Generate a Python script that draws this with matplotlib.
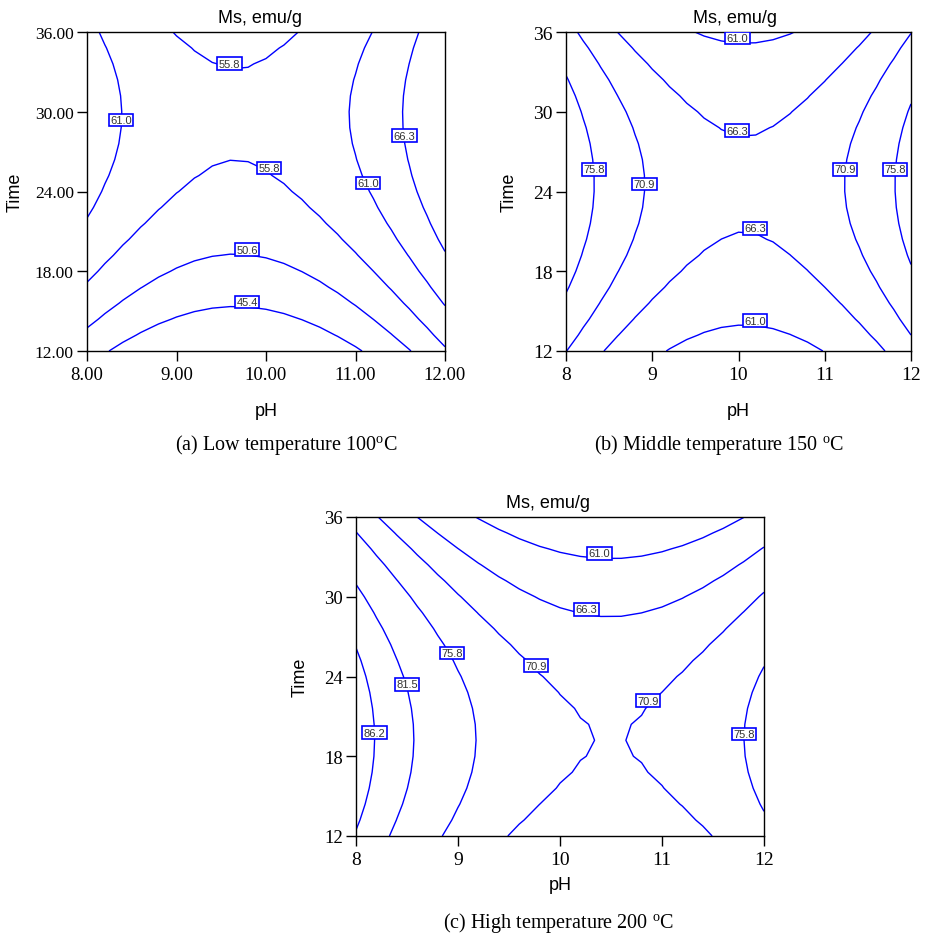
import numpy as np
import matplotlib
matplotlib.use("Agg")
import matplotlib.pyplot as plt

# ---------------- data ----------------
# Response surface for each reaction temperature: saddle-shaped quadratic
# Ms = centre_Ms + pH_curv*(pH - centre_pH)^2 - time_curv*(Time - centre_time)^2
temperature_C = [100, 150, 200]
centre_Ms = [56.42, 67.0, 70.81]
centre_pH = [9.66, 10.07, 10.49]
centre_time = [29.8, 24.55, 19.3]
pH_curv = [2.83, 2.89, 2.888]
time_curv = [0.0527, 0.0533, 0.0532]

# design grid used by the software (pH step 0.2, time step 1.2)
pH_grid = np.linspace(8, 12, 21)
time_grid = np.linspace(12, 36, 21)

levels_a = [45.4, 50.6, 55.8, 61.0, 66.3]
levels_b = [61.0, 66.3, 70.9, 75.8]
levels_c = [61.0, 66.3, 70.9, 75.8, 81.5, 86.2]

pH_ticks = [8, 9, 10, 11, 12]
time_ticks = [12, 18, 24, 30, 36]

captions = ["(a) Low temperature 100$^{\\mathrm{o}}$C",
            "(b) Middle temperature 150 $^{\\mathrm{o}}$C",
            "(c) High temperature 200 $^{\\mathrm{o}}$C"]
title = "Ms, emu/g"

# ---------------- style ----------------
plt.rcParams['font.family'] = ['Liberation Sans', 'DejaVu Sans']
plt.rcParams['mathtext.fontset'] = 'custom'
plt.rcParams['mathtext.rm'] = 'Liberation Serif'
plt.rcParams['mathtext.it'] = 'Liberation Serif:italic'
LINE = '#0000FF'
W, H = 925, 937

fig = plt.figure(figsize=(W / 100, H / 100), dpi=100)


def px_axes(l, t, r, b):
    return fig.add_axes([l / W, 1 - b / H, (r - l) / W, (b - t) / H])


def surface(i):
    P, T = np.meshgrid(pH_grid, time_grid)
    return P, T, (centre_Ms[i] + pH_curv[i] * (P - centre_pH[i]) ** 2
                  - time_curv[i] * (T - centre_time[i]) ** 2)


def panel(ax, i, levels, label_pos, fmt_ticks, xt_size, yt_size,
          ylabpad, xlabpad, title_x):
    P, T, Z = surface(i)
    cs = ax.contour(P, T, Z, levels=levels, colors=LINE, linewidths=1.0)
    texts = ax.clabel(cs, levels, inline=False, manual=label_pos,
                      fmt='%.1f', fontsize=8)
    for t in texts:
        t.set_rotation(0)
        t.set_va('bottom')
        t.set_color('#333333')
        t.set_bbox(dict(boxstyle='square,pad=0.12', fc='white',
                        ec=LINE, lw=1.2))
    ax.set_xlim(8, 12)
    ax.set_ylim(12, 36)
    ax.set_xticks(pH_ticks)
    ax.set_yticks(time_ticks)
    ax.set_xticklabels([fmt_ticks % v for v in pH_ticks])
    ax.set_yticklabels([fmt_ticks % v for v in time_ticks])
    ax.tick_params(direction='out', length=7.5, width=1.0,
                   labelfontfamily='Liberation Serif')
    ax.tick_params(axis='x', labelsize=xt_size, pad=3)
    ax.tick_params(axis='y', labelsize=yt_size, pad=2)
    for s in ax.spines.values():
        s.set_linewidth(1.0)
    ax.set_xlabel('pH', fontsize=13, labelpad=xlabpad)
    ax.set_ylabel('Time', fontsize=13, labelpad=ylabpad)
    ax.set_title(title, fontsize=13, pad=7, x=title_x)


# (a)
ax_a = px_axes(87, 33, 445, 352)
panel(ax_a, 0, levels_a,
      [(9.79, 15.2), (9.79, 19.2), (10.06, 25.6), (9.59, 33.2),
       (8.39, 29.0), (11.12, 24.2), (11.53, 27.8)],
      '%.2f', 13.5, 12.5, 8, 14, 0.483)

# (b)
ax_b = px_axes(566, 33, 911, 352)
panel(ax_b, 1, levels_b,
      [(9.99, 35.17), (9.99, 28.3), (10.19, 20.83), (10.19, 13.88),
       (8.32, 25.3), (8.90, 24.2), (11.23, 25.3), (11.80, 25.3)],
      '%d', 14, 14, 11, 14, 0.49)

# (c)
ax_c = px_axes(356, 518, 764, 837)
panel(ax_c, 2, levels_c,
      [(10.39, 33.0), (10.26, 28.6), (8.94, 25.4), (9.79, 24.6),
       (8.49, 23.0), (10.83, 22.1), (8.23, 19.4), (11.78, 19.3)],
      '%d', 14, 13.5, 11, 6, 0.47)

# captions
cap_pos = [(286, 450), (719, 450), (559, 928)]
for txt, (x, y) in zip(captions, cap_pos):
    fig.text(x / W, 1 - y / H, txt, ha='center', va='baseline',
             fontsize=14.5, family='Liberation Serif')

fig.savefig('out.png', dpi=100)
